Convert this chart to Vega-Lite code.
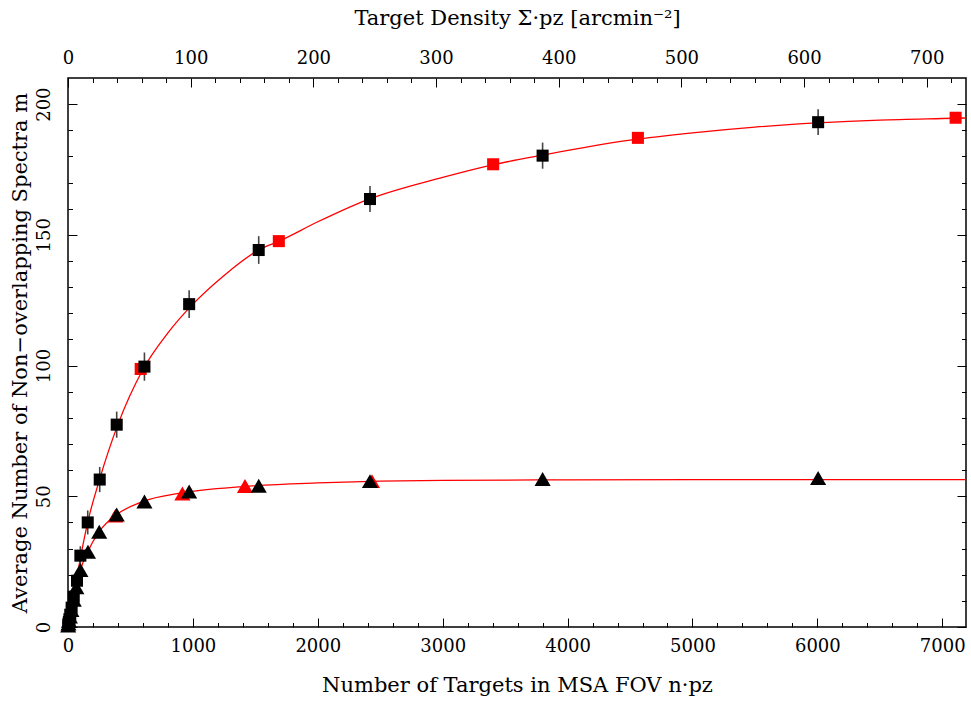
{
  "$schema": "https://vega.github.io/schema/vega-lite/v6.json",
  "autosize": "none",
  "width": 898,
  "height": 549,
  "padding": {"left": 68, "top": 78, "right": 5, "bottom": 77},
  "background": "white",
  "config": {
    "view": {"stroke": "black", "strokeWidth": 1.5},
    "font": "DejaVu Serif",
    "axis": {
      "domain": false,
      "grid": false,
      "tickColor": "black",
      "tickWidth": 1,
      "labelFont": "DejaVu Serif",
      "labelFontSize": 18,
      "labelColor": "black",
      "labelFlush": false,
      "labelOverlap": false,
      "format": "d",
      "titleFont": "DejaVu Serif",
      "titleFontSize": 21,
      "titleFontWeight": "normal",
      "titleColor": "black"
    }
  },
  "datasets": {
    "curves": [
      {"n": 0, "m": 0, "series": "upper"},
      {"n": 20, "m": 5.2, "series": "upper"},
      {"n": 50, "m": 13, "series": "upper"},
      {"n": 100, "m": 26.5, "series": "upper"},
      {"n": 160, "m": 40.5, "series": "upper"},
      {"n": 250, "m": 56, "series": "upper"},
      {"n": 400, "m": 77.5, "series": "upper"},
      {"n": 600, "m": 98.5, "series": "upper"},
      {"n": 800, "m": 112.5, "series": "upper"},
      {"n": 1000, "m": 123.5, "series": "upper"},
      {"n": 1250, "m": 134.5, "series": "upper"},
      {"n": 1530, "m": 144.3, "series": "upper"},
      {"n": 1700, "m": 147.8, "series": "upper"},
      {"n": 2000, "m": 155, "series": "upper"},
      {"n": 2400, "m": 163.5, "series": "upper"},
      {"n": 3000, "m": 172, "series": "upper"},
      {"n": 3400, "m": 176.8, "series": "upper"},
      {"n": 3800, "m": 180.5, "series": "upper"},
      {"n": 4500, "m": 186.2, "series": "upper"},
      {"n": 5000, "m": 189, "series": "upper"},
      {"n": 5500, "m": 191.2, "series": "upper"},
      {"n": 6000, "m": 192.8, "series": "upper"},
      {"n": 6500, "m": 193.9, "series": "upper"},
      {"n": 7000, "m": 194.5, "series": "upper"},
      {"n": 7190, "m": 194.7, "series": "upper"},
      {"n": 0, "m": 0, "series": "lower"},
      {"n": 20, "m": 4.6, "series": "lower"},
      {"n": 50, "m": 11.2, "series": "lower"},
      {"n": 100, "m": 21.8, "series": "lower"},
      {"n": 160, "m": 29, "series": "lower"},
      {"n": 250, "m": 36.5, "series": "lower"},
      {"n": 390, "m": 43, "series": "lower"},
      {"n": 600, "m": 48, "series": "lower"},
      {"n": 900, "m": 51.2, "series": "lower"},
      {"n": 1400, "m": 53.7, "series": "lower"},
      {"n": 2000, "m": 55.1, "series": "lower"},
      {"n": 2500, "m": 55.8, "series": "lower"},
      {"n": 3000, "m": 56.1, "series": "lower"},
      {"n": 4000, "m": 56.3, "series": "lower"},
      {"n": 5000, "m": 56.4, "series": "lower"},
      {"n": 7190, "m": 56.4, "series": "lower"}
    ],
    "points": [
      {"n": 582, "m": 98.7, "lo": 98.7, "hi": 98.7, "kind": "square", "group": "red", "order": 0},
      {"n": 1688, "m": 147.6, "lo": 147.6, "hi": 147.6, "kind": "square", "group": "red", "order": 0},
      {"n": 3404, "m": 177.0, "lo": 177.0, "hi": 177.0, "kind": "square", "group": "red", "order": 0},
      {"n": 4563, "m": 187.1, "lo": 187.1, "hi": 187.1, "kind": "square", "group": "red", "order": 0},
      {"n": 7107, "m": 194.8, "lo": 194.8, "hi": 194.8, "kind": "square", "group": "red", "order": 0},
      {"n": 380, "m": 42.6, "lo": 42.6, "hi": 42.6, "kind": "triangle", "group": "red", "order": 0},
      {"n": 916, "m": 51.1, "lo": 51.1, "hi": 51.1, "kind": "triangle", "group": "red", "order": 0},
      {"n": 1417, "m": 53.9, "lo": 53.9, "hi": 53.9, "kind": "triangle", "group": "red", "order": 0},
      {"n": 2434, "m": 55.8, "lo": 55.8, "hi": 55.8, "kind": "triangle", "group": "red", "order": 0},
      {"n": 6006, "m": 193.1, "lo": 188.2, "hi": 198.0, "kind": "square", "group": "black", "order": 1},
      {"n": 3800, "m": 180.3, "lo": 175.3, "hi": 185.3, "kind": "square", "group": "black", "order": 1},
      {"n": 2418, "m": 163.7, "lo": 158.7, "hi": 168.7, "kind": "square", "group": "black", "order": 1},
      {"n": 1527, "m": 144.2, "lo": 138.9, "hi": 149.5, "kind": "square", "group": "black", "order": 1},
      {"n": 970, "m": 123.5, "lo": 118.2, "hi": 128.8, "kind": "square", "group": "black", "order": 1},
      {"n": 612, "m": 99.6, "lo": 94.2, "hi": 105.0, "kind": "square", "group": "black", "order": 1},
      {"n": 390, "m": 77.4, "lo": 72.4, "hi": 82.4, "kind": "square", "group": "black", "order": 1},
      {"n": 254, "m": 56.4, "lo": 51.6, "hi": 61.2, "kind": "square", "group": "black", "order": 1},
      {"n": 158, "m": 40.0, "lo": 35.4, "hi": 44.6, "kind": "square", "group": "black", "order": 1},
      {"n": 99, "m": 27.3, "lo": 23.7, "hi": 30.9, "kind": "square", "group": "black", "order": 1},
      {"n": 72, "m": 17.7, "lo": 14.7, "hi": 20.7, "kind": "square", "group": "black", "order": 1},
      {"n": 46, "m": 11.6, "lo": 9.2, "hi": 14.0, "kind": "square", "group": "black", "order": 1},
      {"n": 29, "m": 7.4, "lo": 5.4, "hi": 9.4, "kind": "square", "group": "black", "order": 1},
      {"n": 18, "m": 4.7, "lo": 3.2, "hi": 6.2, "kind": "square", "group": "black", "order": 1},
      {"n": 11.5, "m": 3.0, "lo": 1.8, "hi": 4.2, "kind": "square", "group": "black", "order": 1},
      {"n": 7.3, "m": 1.9, "lo": 0.9, "hi": 2.9, "kind": "square", "group": "black", "order": 1},
      {"n": 4.6, "m": 1.2, "lo": 0.4, "hi": 2.0, "kind": "square", "group": "black", "order": 1},
      {"n": 2.9, "m": 0.75, "lo": 0.15, "hi": 1.35, "kind": "square", "group": "black", "order": 1},
      {"n": 6006, "m": 57.0, "lo": 55.7, "hi": 58.3, "kind": "triangle", "group": "black", "order": 1},
      {"n": 3800, "m": 56.6, "lo": 55.3, "hi": 57.9, "kind": "triangle", "group": "black", "order": 1},
      {"n": 2418, "m": 55.8, "lo": 54.5, "hi": 57.1, "kind": "triangle", "group": "black", "order": 1},
      {"n": 1527, "m": 54.0, "lo": 52.7, "hi": 55.3, "kind": "triangle", "group": "black", "order": 1},
      {"n": 970, "m": 51.8, "lo": 50.5, "hi": 53.1, "kind": "triangle", "group": "black", "order": 1},
      {"n": 612, "m": 48.0, "lo": 46.6, "hi": 49.4, "kind": "triangle", "group": "black", "order": 1},
      {"n": 390, "m": 43.0, "lo": 41.5, "hi": 44.5, "kind": "triangle", "group": "black", "order": 1},
      {"n": 250, "m": 36.4, "lo": 34.8, "hi": 38.0, "kind": "triangle", "group": "black", "order": 1},
      {"n": 160, "m": 28.8, "lo": 27.2, "hi": 30.4, "kind": "triangle", "group": "black", "order": 1},
      {"n": 99, "m": 21.8, "lo": 20.3, "hi": 23.3, "kind": "triangle", "group": "black", "order": 1},
      {"n": 67, "m": 15.2, "lo": 13.8, "hi": 16.6, "kind": "triangle", "group": "black", "order": 1},
      {"n": 46, "m": 10.4, "lo": 9.2, "hi": 11.6, "kind": "triangle", "group": "black", "order": 1},
      {"n": 27, "m": 6.5, "lo": 5.5, "hi": 7.5, "kind": "triangle", "group": "black", "order": 1},
      {"n": 15, "m": 4.0, "lo": 3.2, "hi": 4.8, "kind": "triangle", "group": "black", "order": 1},
      {"n": 8, "m": 2.4, "lo": 1.8, "hi": 3.0, "kind": "triangle", "group": "black", "order": 1},
      {"n": 4, "m": 1.3, "lo": 0.8, "hi": 1.8, "kind": "triangle", "group": "black", "order": 1},
      {"n": 1.5, "m": 0.6, "lo": 0.2, "hi": 1.0, "kind": "triangle", "group": "black", "order": 1}
    ],
    "density": [{"d": 0}, {"d": 732}]
  },
  "resolve": {"scale": {"x": "independent"}, "axis": {"x": "independent", "y": "independent"}},
  "layer": [
    {
      "data": {"name": "curves"},
      "transform": [{"filter": "datum.series === 'upper'"}],
      "mark": {"type": "line", "color": "#ff0000", "strokeWidth": 1.3, "clip": true, "interpolate": "monotone"},
      "encoding": {
        "x": {"field": "n", "type": "quantitative", "scale": {"domain": [0, 7190], "nice": false, "zero": false},
          "axis": {"orient": "bottom", "values": [0, 1000, 2000, 3000, 4000, 5000, 6000, 7000], "tickSize": -9, "labelPadding": 19,
            "title": "Number of Targets in MSA FOV n·pz", "titlePadding": 19}},
        "y": {"field": "m", "type": "quantitative", "scale": {"domain": [0, 210], "nice": false, "zero": false},
          "axis": {"orient": "left", "values": [0, 50, 100, 150, 200], "tickSize": -9, "labelAngle": -90, "labelAlign": "center", "labelBaseline": "bottom", "labelPadding": 24,
            "title": "Average Number of Non−overlapping Spectra m", "titlePadding": 5}}
      }
    },
    {
      "data": {"name": "curves"},
      "transform": [{"filter": "datum.series === 'lower'"}],
      "mark": {"type": "line", "color": "#ff0000", "strokeWidth": 1.3, "clip": true, "interpolate": "monotone"},
      "encoding": {
        "x": {"field": "n", "type": "quantitative", "scale": {"domain": [0, 7190], "nice": false, "zero": false},
          "axis": {"orient": "bottom", "values": [200, 400, 600, 800, 1200, 1400, 1600, 1800, 2200, 2400, 2600, 2800, 3200, 3400, 3600, 3800, 4200, 4400, 4600, 4800, 5200, 5400, 5600, 5800, 6200, 6400, 6600, 6800], "tickSize": -4.5, "labels": false, "title": null}},
        "y": {"field": "m", "type": "quantitative", "scale": {"domain": [0, 210], "nice": false, "zero": false},
          "axis": {"orient": "left", "values": [10, 20, 30, 40, 60, 70, 80, 90, 110, 120, 130, 140, 160, 170, 180, 190], "tickSize": -4.5, "labels": false, "title": null}}
      }
    },
    {
      "data": {"name": "points"},
      "mark": {"type": "rule", "color": "#444444", "strokeWidth": 1.6},
      "encoding": {
        "x": {"field": "n", "type": "quantitative", "scale": {"domain": [0, 7190], "nice": false, "zero": false}, "axis": null},
        "y": {"field": "lo", "type": "quantitative", "scale": {"domain": [0, 210], "nice": false, "zero": false},
          "axis": {"orient": "right", "values": [0, 50, 100, 150, 200], "tickSize": -9, "labels": false, "title": null}},
        "y2": {"field": "hi"}
      }
    },
    {
      "data": {"name": "points"},
      "mark": {"type": "point", "filled": true, "opacity": 1, "strokeWidth": 0},
      "encoding": {
        "x": {"field": "n", "type": "quantitative", "scale": {"domain": [0, 7190], "nice": false, "zero": false}, "axis": null},
        "y": {"field": "m", "type": "quantitative", "scale": {"domain": [0, 210], "nice": false, "zero": false},
          "axis": {"orient": "right", "values": [10, 20, 30, 40, 60, 70, 80, 90, 110, 120, 130, 140, 160, 170, 180, 190], "tickSize": -4.5, "labels": false, "title": null}},
        "shape": {"field": "kind", "type": "nominal", "scale": {"domain": ["square", "triangle"], "range": ["square", "triangle-up"]}, "legend": null},
        "size": {"field": "kind", "type": "nominal", "scale": {"domain": ["square", "triangle"], "range": [145, 260]}, "legend": null},
        "color": {"field": "group", "type": "nominal", "scale": {"domain": ["black", "red"], "range": ["#000000", "#ff0000"]}, "legend": null},
        "order": {"field": "order", "type": "quantitative"}
      }
    },
    {
      "data": {"name": "density"},
      "mark": {"type": "point", "opacity": 0},
      "encoding": {
        "x": {"field": "d", "type": "quantitative", "scale": {"domain": [0, 732], "nice": false, "zero": false},
          "axis": {"orient": "top", "values": [0, 100, 200, 300, 400, 500, 600, 700], "tickSize": -9, "labelPadding": 20,
            "title": "Target Density Σ·pz [arcmin⁻²]", "titlePadding": 21}}
      }
    },
    {
      "data": {"name": "density"},
      "mark": {"type": "point", "opacity": 0},
      "encoding": {
        "x": {"field": "d", "type": "quantitative", "scale": {"domain": [0, 732], "nice": false, "zero": false},
          "axis": {"orient": "top", "values": [20, 40, 60, 80, 120, 140, 160, 180, 220, 240, 260, 280, 320, 340, 360, 380, 420, 440, 460, 480, 520, 540, 560, 580, 620, 640, 660, 680, 720], "tickSize": -4.5, "labels": false, "title": null}}
      }
    }
  ]
}
